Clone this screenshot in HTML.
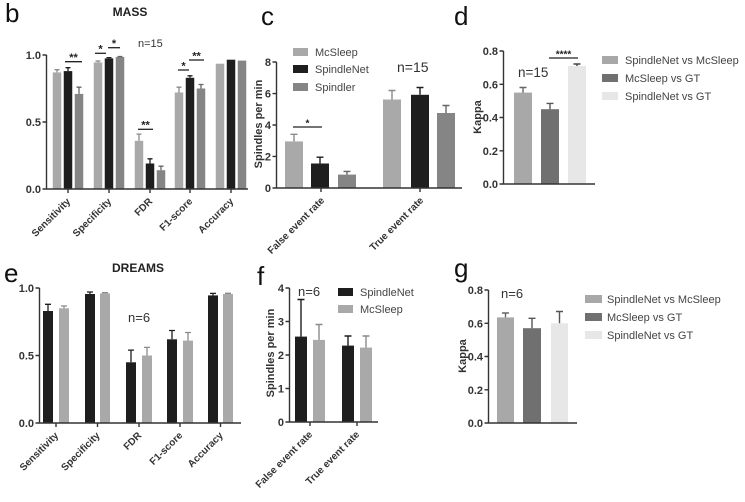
<!DOCTYPE html>
<html><head><meta charset="utf-8"><style>
html,body{margin:0;padding:0;background:#fff;}
svg{display:block;}
text{font-family:"Liberation Sans",Arial,sans-serif;}
.tl{font-size:11px;font-weight:bold;fill:#333;text-anchor:end;}
.xl{font-size:10px;font-weight:bold;fill:#333;text-anchor:end;}
.lg{font-size:11px;fill:#444;}
.pl{font-size:26px;fill:#111;}
.ax{stroke:#333;stroke-width:1.4;fill:none;}
.st{font-size:11px;font-weight:bold;fill:#222;text-anchor:middle;}
.sg{stroke:#222;stroke-width:1.3;}
</style></head><body>
<svg width="745" height="502" viewBox="0 0 745 502" xmlns="http://www.w3.org/2000/svg">
<rect width="745" height="502" fill="#fff"/>

<!-- ================= Panel b ================= -->
<text class="pl" x="5" y="22">b</text>
<text x="130" y="16" style="font-size:12px;font-weight:bold;fill:#222;text-anchor:middle">MASS</text>
<text x="138" y="47" style="font-size:11px;fill:#333">n=15</text>
<g>
<!-- Sensitivity -->
<rect x="52.75" y="72.4" width="8.5" height="116.6" fill="#a9a9a9"/>
<rect x="63.75" y="71.1" width="8.5" height="117.9" fill="#1e1e1e"/>
<rect x="74.75" y="93.9" width="8.5" height="95.1" fill="#858585"/>
<!-- Specificity -->
<rect x="93.75" y="62.4" width="8.5" height="126.6" fill="#a9a9a9"/>
<rect x="104.75" y="58.4" width="8.5" height="130.6" fill="#1e1e1e"/>
<rect x="115.75" y="57" width="8.5" height="132" fill="#858585"/>
<!-- FDR -->
<rect x="134.75" y="140.8" width="8.5" height="48.2" fill="#a9a9a9"/>
<rect x="145.75" y="163.5" width="8.5" height="25.5" fill="#1e1e1e"/>
<rect x="156.75" y="170.2" width="8.5" height="18.8" fill="#858585"/>
<!-- F1 -->
<rect x="174.75" y="92.5" width="8.5" height="96.5" fill="#a9a9a9"/>
<rect x="185.75" y="77.8" width="8.5" height="111.2" fill="#1e1e1e"/>
<rect x="196.75" y="88.5" width="8.5" height="100.5" fill="#858585"/>
<!-- Accuracy -->
<rect x="215.75" y="63.7" width="8.5" height="125.3" fill="#a9a9a9"/>
<rect x="226.75" y="59.7" width="8.5" height="129.3" fill="#1e1e1e"/>
<rect x="237.75" y="60.6" width="8.5" height="128.4" fill="#858585"/>
</g>
<g stroke-width="1.3" fill="none">
<path d="M57 72.4V69.7M54.5 69.7H59.5" stroke="#8a8a8a"/>
<path d="M68 71.1V67.7M65.5 67.7H70.5" stroke="#1e1e1e"/>
<path d="M79 93.9V87.2M76.5 87.2H81.5" stroke="#666"/>
<path d="M98 62.4V61M95.5 61H100.5" stroke="#8a8a8a"/>
<path d="M109 58.4V57.6M106.5 57.6H111.5" stroke="#1e1e1e"/>
<path d="M120 57V56.5M117.5 56.5H122.5" stroke="#666"/>
<path d="M139 140.8V134.1M136.5 134.1H141.5" stroke="#8a8a8a"/>
<path d="M150 163.5V158.8M147.5 158.8H152.5" stroke="#1e1e1e"/>
<path d="M161 170.2V166.2M158.5 166.2H163.5" stroke="#666"/>
<path d="M179 92.5V87.2M176.5 87.2H181.5" stroke="#8a8a8a"/>
<path d="M190 77.8V75.8M187.5 75.8H192.5" stroke="#1e1e1e"/>
<path d="M201 88.5V84.5M198.5 84.5H203.5" stroke="#666"/>
</g>
<!-- significance -->
<line class="sg" x1="65" y1="61.7" x2="82" y2="61.7"/><text class="st" x="73.5" y="61">**</text>
<line class="sg" x1="95" y1="53.3" x2="106" y2="53.3"/><text class="st" x="100.5" y="52.5">*</text>
<line class="sg" x1="108" y1="47.7" x2="120" y2="47.7"/><text class="st" x="114" y="47">*</text>
<line class="sg" x1="138" y1="129.3" x2="153" y2="129.3"/><text class="st" x="145.5" y="128.5">**</text>
<line class="sg" x1="178" y1="70" x2="189" y2="70"/><text class="st" x="183.5" y="69.3">*</text>
<line class="sg" x1="189" y1="60" x2="204" y2="60"/><text class="st" x="196.5" y="59.3">**</text>
<!-- axes -->
<path class="ax" d="M46.5 55V189H248M42.5 55H46.5M42.5 122H46.5M42.5 189H46.5M68 189V193M109 189V193M150 189V193M190 189V193M231 189V193"/>
<text class="tl" x="41" y="59">1.0</text>
<text class="tl" x="41" y="126">0.5</text>
<text class="tl" x="41" y="193">0.0</text>
<text class="xl" transform="translate(71,202) rotate(-45)">Sensitivity</text>
<text class="xl" transform="translate(112,202) rotate(-45)">Specificity</text>
<text class="xl" transform="translate(153,202) rotate(-45)">FDR</text>
<text class="xl" transform="translate(193,202) rotate(-45)">F1-score</text>
<text class="xl" transform="translate(234,202) rotate(-45)">Accuracy</text>

<!-- ================= Panel c ================= -->
<text class="pl" x="261" y="25">c</text>
<rect x="293" y="48" width="15" height="8" fill="#a9a9a9"/>
<rect x="293" y="65" width="15" height="8" fill="#1e1e1e"/>
<rect x="293" y="83" width="15" height="8" fill="#858585"/>
<text class="lg" x="315" y="56">McSleep</text>
<text class="lg" x="315" y="73">SpindleNet</text>
<text class="lg" x="315" y="91">Spindler</text>
<text x="397" y="72" style="font-size:14px;fill:#333">n=15</text>
<rect x="285" y="141.4" width="18" height="46.6" fill="#a9a9a9"/>
<rect x="311" y="163.5" width="18" height="24.5" fill="#1e1e1e"/>
<rect x="338" y="174.6" width="18" height="13.4" fill="#858585"/>
<rect x="383" y="99.5" width="18" height="88.5" fill="#a9a9a9"/>
<rect x="411" y="94.8" width="18" height="93.2" fill="#1e1e1e"/>
<rect x="437" y="113" width="18" height="75" fill="#858585"/>
<g stroke-width="1.4" fill="none">
<path d="M294 141.4V134.3M290.5 134.3H297.5" stroke="#8a8a8a"/>
<path d="M320 163.5V157.2M316.5 157.2H323.5" stroke="#1e1e1e"/>
<path d="M347 174.6V171.4M343.5 171.4H350.5" stroke="#666"/>
<path d="M392 99.5V90.5M388.5 90.5H395.5" stroke="#8a8a8a"/>
<path d="M420 94.8V87.5M416.5 87.5H423.5" stroke="#1e1e1e"/>
<path d="M446 113V105.5M442.5 105.5H449.5" stroke="#666"/>
</g>
<line class="sg" x1="293" y1="127" x2="322" y2="127"/><text class="st" x="307.5" y="126.3" style="font-size:10px">*</text>
<path class="ax" d="M276.5 62V188H462M272.5 62H276.5M272.5 93.6H276.5M272.5 125H276.5M272.5 156.4H276.5M272.5 188H276.5M321 188V192M420 188V192"/>
<text class="tl" x="271" y="66">8</text>
<text class="tl" x="271" y="97.6">6</text>
<text class="tl" x="271" y="129">4</text>
<text class="tl" x="271" y="160.4">2</text>
<text class="tl" x="271" y="192">0</text>
<text transform="translate(262,124) rotate(-90)" style="font-size:11px;font-weight:bold;fill:#333;text-anchor:middle">Spindles per min</text>
<text class="xl" transform="translate(325,201) rotate(-45)">False event rate</text>
<text class="xl" transform="translate(424,201) rotate(-45)">True event rate</text>

<!-- ================= Panel d ================= -->
<text class="pl" x="454" y="25">d</text>
<rect x="514" y="92.6" width="18" height="91.4" fill="#a8a8a8"/>
<rect x="541" y="109.2" width="18" height="74.8" fill="#707070"/>
<rect x="568" y="66" width="18" height="118" fill="#e7e7e7"/>
<g stroke-width="1.4" fill="none">
<path d="M523 92.6V87.5M519.5 87.5H526.5" stroke="#666"/>
<path d="M550 109.2V103.4M546.5 103.4H553.5" stroke="#555"/>
<path d="M577 66V64M573.5 64H580.5" stroke="#444"/>
</g>
<line class="sg" x1="549" y1="58" x2="578" y2="58"/><text class="st" x="563.5" y="57.3" style="font-size:10px">****</text>
<text x="518" y="77" style="font-size:13.5px;fill:#333">n=15</text>
<path class="ax" d="M503.5 51V184H595M499.5 51H503.5M499.5 84.3H503.5M499.5 117.5H503.5M499.5 150.8H503.5M499.5 184H503.5"/>
<text class="tl" x="498" y="55">0.8</text>
<text class="tl" x="498" y="88.3">0.6</text>
<text class="tl" x="498" y="121.5">0.4</text>
<text class="tl" x="498" y="154.8">0.2</text>
<text class="tl" x="498" y="188">0.0</text>
<text transform="translate(481,117) rotate(-90)" style="font-size:11px;font-weight:bold;fill:#333;text-anchor:middle">Kappa</text>
<rect x="602" y="56" width="16" height="8" fill="#a8a8a8"/>
<rect x="602" y="74" width="16" height="8" fill="#707070"/>
<rect x="602" y="92" width="16" height="8" fill="#e7e7e7"/>
<text class="lg" x="625" y="64">SpindleNet vs McSleep</text>
<text class="lg" x="625" y="82">McSleep vs GT</text>
<text class="lg" x="625" y="100">SpindleNet vs GT</text>

<!-- ================= Panel e ================= -->
<text class="pl" x="4" y="282">e</text>
<text x="138" y="272" style="font-size:12px;font-weight:bold;fill:#222;text-anchor:middle">DREAMS</text>
<text x="128" y="322" style="font-size:13px;fill:#333">n=6</text>
<rect x="43" y="311" width="10" height="112" fill="#1e1e1e"/>
<rect x="59" y="308.3" width="10" height="114.7" fill="#a9a9a9"/>
<rect x="85" y="294" width="10" height="129" fill="#1e1e1e"/>
<rect x="100" y="293.4" width="10" height="129.6" fill="#a9a9a9"/>
<rect x="126" y="362.3" width="10" height="60.7" fill="#1e1e1e"/>
<rect x="142" y="355.5" width="10" height="67.5" fill="#a9a9a9"/>
<rect x="167" y="339.3" width="10" height="83.7" fill="#1e1e1e"/>
<rect x="183" y="340.6" width="10" height="82.4" fill="#a9a9a9"/>
<rect x="208" y="295.4" width="10" height="127.6" fill="#1e1e1e"/>
<rect x="223" y="294" width="10" height="129" fill="#a9a9a9"/>
<g stroke-width="1.3" fill="none">
<path d="M48 311V304.3M45 304.3H51" stroke="#1e1e1e"/>
<path d="M64 308.3V306M61 306H67" stroke="#8a8a8a"/>
<path d="M90 294V292M87 292H93" stroke="#1e1e1e"/>
<path d="M105 293.4V292.7M102 292.7H108" stroke="#8a8a8a"/>
<path d="M131 362.3V350.1M128 350.1H134" stroke="#1e1e1e"/>
<path d="M147 355.5V347.4M144 347.4H150" stroke="#8a8a8a"/>
<path d="M172 339.3V330.5M169 330.5H175" stroke="#1e1e1e"/>
<path d="M188 340.6V332.5M185 332.5H191" stroke="#8a8a8a"/>
<path d="M213 295.4V293.4M210 293.4H216" stroke="#1e1e1e"/>
<path d="M228 294V293.3M225 293.3H231" stroke="#8a8a8a"/>
</g>
<path class="ax" d="M39.5 288V423H241M35.5 288H39.5M35.5 355.5H39.5M35.5 423H39.5M56 423V427M97.5 423V427M139 423V427M180 423V427M220.5 423V427"/>
<text class="tl" x="34" y="292">1.0</text>
<text class="tl" x="34" y="359.5">0.5</text>
<text class="tl" x="34" y="427">0.0</text>
<text class="xl" transform="translate(59,436) rotate(-45)">Sensitivity</text>
<text class="xl" transform="translate(100.5,436) rotate(-45)">Specificity</text>
<text class="xl" transform="translate(142,436) rotate(-45)">FDR</text>
<text class="xl" transform="translate(183,436) rotate(-45)">F1-score</text>
<text class="xl" transform="translate(223.5,436) rotate(-45)">Accuracy</text>

<!-- ================= Panel f ================= -->
<text class="pl" x="257" y="285">f</text>
<text x="298" y="296" style="font-size:13px;fill:#333">n=6</text>
<rect x="338" y="288" width="15" height="8" fill="#1e1e1e"/>
<rect x="338" y="305" width="15" height="8" fill="#a9a9a9"/>
<text class="lg" x="360" y="296">SpindleNet</text>
<text class="lg" x="360" y="313">McSleep</text>
<rect x="295" y="336.6" width="12" height="85.4" fill="#1e1e1e"/>
<rect x="313" y="339.9" width="12" height="82.1" fill="#a9a9a9"/>
<rect x="342" y="345.6" width="12" height="76.4" fill="#1e1e1e"/>
<rect x="360" y="347.6" width="12" height="74.4" fill="#a9a9a9"/>
<g stroke-width="1.4" fill="none">
<path d="M301 336.6V299.5M297.5 299.5H304.5" stroke="#1e1e1e"/>
<path d="M319 339.9V324.5M315.5 324.5H322.5" stroke="#8a8a8a"/>
<path d="M348 345.6V336M344.5 336H351.5" stroke="#1e1e1e"/>
<path d="M366 347.6V336M362.5 336H369.5" stroke="#8a8a8a"/>
</g>
<path class="ax" d="M289.5 288V422H378M285.5 288H289.5M285.5 321.5H289.5M285.5 355H289.5M285.5 388.5H289.5M285.5 422H289.5M310 422V426M357 422V426"/>
<text class="tl" x="284" y="292">4</text>
<text class="tl" x="284" y="325.5">3</text>
<text class="tl" x="284" y="359">2</text>
<text class="tl" x="284" y="392.5">1</text>
<text class="tl" x="284" y="426">0</text>
<text transform="translate(274,353) rotate(-90)" style="font-size:11px;font-weight:bold;fill:#333;text-anchor:middle">Spindles per min</text>
<text class="xl" transform="translate(313,435) rotate(-45)">False event rate</text>
<text class="xl" transform="translate(360,435) rotate(-45)">True event rate</text>

<!-- ================= Panel g ================= -->
<text class="pl" x="454" y="277">g</text>
<text x="501" y="298" style="font-size:13px;fill:#333">n=6</text>
<rect x="497" y="317.4" width="17" height="105.6" fill="#a8a8a8"/>
<rect x="523" y="328.2" width="18" height="94.8" fill="#707070"/>
<rect x="551" y="323.3" width="17" height="99.7" fill="#e7e7e7"/>
<g stroke-width="1.4" fill="none">
<path d="M505.5 317.4V313M502 313H509" stroke="#666"/>
<path d="M532 328.2V318.3M528.5 318.3H535.5" stroke="#555"/>
<path d="M559.5 323.3V311.5M556 311.5H563" stroke="#555"/>
</g>
<path class="ax" d="M488.5 290V423H577M484.5 290H488.5M484.5 323.3H488.5M484.5 356.5H488.5M484.5 389.8H488.5M484.5 423H488.5"/>
<text class="tl" x="483" y="294">0.8</text>
<text class="tl" x="483" y="327.3">0.6</text>
<text class="tl" x="483" y="360.5">0.4</text>
<text class="tl" x="483" y="393.8">0.2</text>
<text class="tl" x="483" y="427">0.0</text>
<text transform="translate(466,356) rotate(-90)" style="font-size:11px;font-weight:bold;fill:#333;text-anchor:middle">Kappa</text>
<rect x="585" y="295" width="17" height="8" fill="#a8a8a8"/>
<rect x="585" y="313" width="17" height="8" fill="#707070"/>
<rect x="585" y="331" width="17" height="8" fill="#e7e7e7"/>
<text class="lg" x="607" y="303">SpindleNet vs McSleep</text>
<text class="lg" x="607" y="321">McSleep vs GT</text>
<text class="lg" x="607" y="339">SpindleNet vs GT</text>
</svg>
</body></html>
